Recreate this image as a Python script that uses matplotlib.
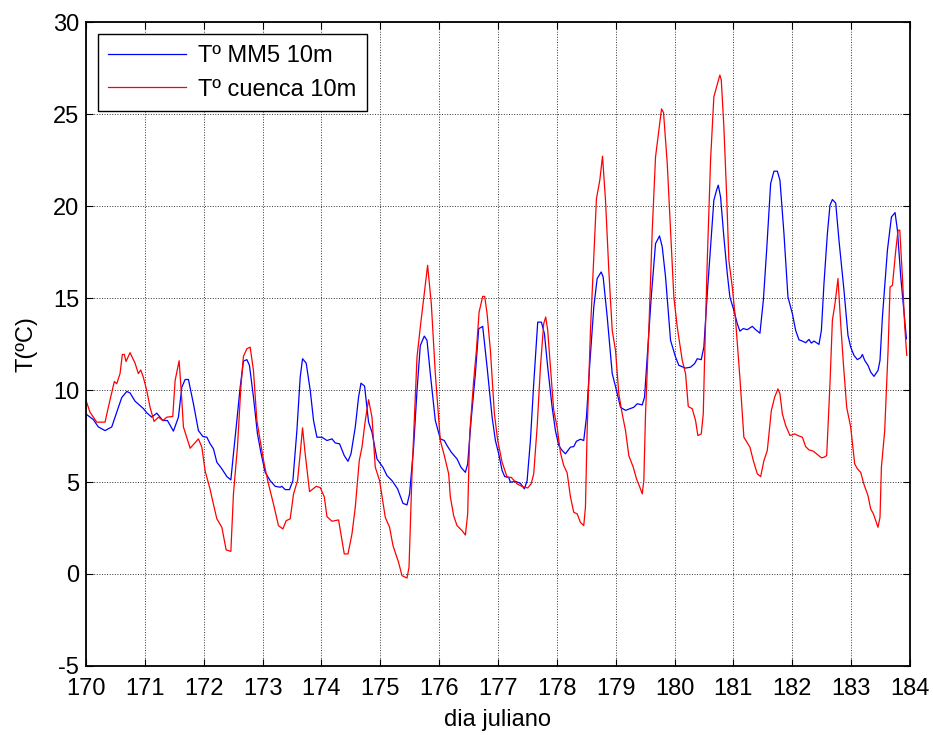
import matplotlib
matplotlib.use("Agg")
import matplotlib.pyplot as plt

# Julian day and temperature (ºC) of the MM5 model series (blue)
mm5_day = [170.000, 170.124, 170.209, 170.323, 170.437, 170.607, 170.692, 170.748, 170.833, 170.974,
           171.032, 171.117, 171.202, 171.304, 171.383, 171.485, 171.570, 171.628, 171.684, 171.740,
           171.825, 171.910, 171.985, 172.053, 172.109, 172.165, 172.223, 172.308, 172.393, 172.461,
           172.505, 172.563, 172.619, 172.675, 172.733, 172.777, 172.845, 172.913, 172.971, 173.044,
           173.129, 173.214, 173.299, 173.328, 173.384, 173.457, 173.515, 173.583, 173.639, 173.679,
           173.741, 173.810, 173.866, 173.923, 174.009, 174.094, 174.179, 174.235, 174.308, 174.388,
           174.451, 174.502, 174.575, 174.631, 174.672, 174.733, 174.801, 174.859, 174.944, 175.046,
           175.114, 175.199, 175.294, 175.386, 175.454, 175.498, 175.566, 175.624, 175.680, 175.748,
           175.794, 175.850, 175.935, 176.020, 176.088, 176.134, 176.207, 176.304, 176.372, 176.446,
           176.485, 176.543, 176.616, 176.672, 176.740, 176.815, 176.900, 176.956, 177.012, 177.070,
           177.114, 177.182, 177.211, 177.296, 177.381, 177.449, 177.495, 177.551, 177.607, 177.675,
           177.738, 177.789, 177.845, 177.920, 177.976, 178.032, 178.090, 178.146, 178.231, 178.287,
           178.333, 178.401, 178.457, 178.503, 178.560, 178.628, 178.685, 178.753, 178.787, 178.856,
           178.941, 179.014, 179.082, 179.167, 179.252, 179.308, 179.366, 179.451, 179.490, 179.536,
           179.604, 179.677, 179.745, 179.791, 179.847, 179.932, 180.017, 180.073, 180.187, 180.272,
           180.340, 180.386, 180.454, 180.498, 180.556, 180.612, 180.668, 180.714, 180.743, 180.782,
           180.838, 180.896, 180.940, 181.008, 181.066, 181.110, 181.168, 181.236, 181.321, 181.378,
           181.451, 181.509, 181.565, 181.633, 181.689, 181.747, 181.791, 181.859, 181.927, 182.002,
           182.058, 182.114, 182.172, 182.228, 182.284, 182.325, 182.369, 182.454, 182.495, 182.539,
           182.597, 182.641, 182.682, 182.738, 182.794, 182.879, 182.947, 182.993, 183.049, 183.107,
           183.163, 183.192, 183.231, 183.287, 183.333, 183.389, 183.457, 183.491, 183.532, 183.617,
           183.685, 183.747, 183.787, 183.844, 183.940]
mm5_temp = [8.7, 8.4, 8.0, 7.8, 8.0, 9.6, 9.93, 9.85, 9.4, 9.0,
            8.77, 8.53, 8.75, 8.35, 8.35, 7.77, 8.53, 10.16, 10.58, 10.58,
            9.26, 7.8, 7.48, 7.44, 7.08, 6.81, 6.08, 5.72, 5.3, 5.12,
            6.54, 8.35, 10.16, 11.58, 11.66, 11.35, 9.62, 7.62, 6.62, 5.53,
            5.08, 4.77, 4.72, 4.77, 4.59, 4.59, 5.08, 7.8, 10.7, 11.71,
            11.47, 9.98, 8.35, 7.44, 7.44, 7.26, 7.35, 7.13, 7.08, 6.44,
            6.13, 6.53, 7.99, 9.62, 10.38, 10.22, 8.26, 7.71, 6.26, 5.8,
            5.35, 5.08, 4.63, 3.84, 3.76, 4.36, 6.9, 9.98, 12.43, 12.94,
            12.71, 10.9, 8.35, 7.35, 7.26, 6.99, 6.62, 6.26, 5.8, 5.53,
            5.99, 8.35, 10.9, 13.34, 13.47, 11.25, 8.53, 7.26, 6.54, 5.63,
            5.3, 5.26, 4.99, 5.04, 4.93, 4.63, 5.08, 7.26, 10.35, 13.7,
            13.7, 13.07, 11.25, 9.07, 7.8, 6.99, 6.72, 6.54, 6.9, 6.93,
            7.22, 7.33, 7.26, 8.53, 11.44, 14.52, 16.07, 16.43, 16.16, 13.98,
            10.9, 9.98, 9.07, 8.9, 9.0, 9.07, 9.26, 9.2, 9.62, 11.8,
            15.07, 17.97, 18.39, 17.79, 16.16, 12.71, 11.8, 11.35, 11.2, 11.25,
            11.44, 11.71, 11.66, 12.34, 15.25, 17.79, 20.33, 20.88, 21.15, 20.51,
            18.33, 16.34, 15.07, 14.34, 13.62, 13.21, 13.35, 13.29, 13.47, 13.29,
            13.1, 14.89, 17.61, 21.24, 21.91, 21.91, 21.42, 18.52, 15.07, 14.16,
            13.25, 12.74, 12.67, 12.58, 12.76, 12.56, 12.67, 12.49, 13.25, 15.8,
            18.52, 20.06, 20.37, 20.18, 18.15, 15.43, 12.98, 12.34, 11.89, 11.66,
            11.77, 11.94, 11.62, 11.35, 10.98, 10.75, 11.07, 11.62, 13.98, 17.61,
            19.42, 19.66, 18.7, 16.16, 12.8]

# Julian day and temperature (ºC) measured at Cuenca (red)
cuenca_day = [170.000, 170.068, 170.182, 170.323, 170.379, 170.481, 170.522, 170.578, 170.617, 170.651,
              170.680, 170.748, 170.833, 170.889, 170.930, 170.974, 171.032, 171.088, 171.156, 171.230,
              171.304, 171.372, 171.474, 171.514, 171.582, 171.628, 171.655, 171.701, 171.769, 171.910,
              171.968, 172.024, 172.109, 172.138, 172.223, 172.308, 172.381, 172.461, 172.505, 172.573,
              172.631, 172.675, 172.733, 172.789, 172.845, 172.903, 172.959, 173.027, 173.100, 173.185,
              173.270, 173.345, 173.401, 173.469, 173.526, 173.594, 173.639, 173.679, 173.724, 173.798,
              173.912, 173.980, 174.048, 174.094, 174.179, 174.291, 174.388, 174.451, 174.519, 174.575,
              174.643, 174.689, 174.745, 174.801, 174.859, 174.915, 174.988, 175.085, 175.158, 175.216,
              175.311, 175.369, 175.454, 175.488, 175.539, 175.624, 175.680, 175.753, 175.804, 175.867,
              175.935, 176.020, 176.088, 176.162, 176.190, 176.247, 176.304, 176.389, 176.446, 176.485,
              176.519, 176.587, 176.633, 176.679, 176.740, 176.774, 176.815, 176.871, 176.939, 176.995,
              177.070, 177.155, 177.223, 177.325, 177.410, 177.505, 177.563, 177.607, 177.665, 177.721,
              177.777, 177.811, 177.845, 177.891, 177.947, 178.005, 178.061, 178.117, 178.175, 178.231,
              178.287, 178.345, 178.401, 178.457, 178.486, 178.515, 178.571, 178.628, 178.673, 178.730,
              178.776, 178.827, 178.883, 178.941, 178.997, 179.053, 179.111, 179.167, 179.223, 179.298,
              179.354, 179.410, 179.451, 179.478, 179.507, 179.563, 179.621, 179.677, 179.733, 179.779,
              179.813, 179.876, 179.932, 179.988, 180.046, 180.131, 180.187, 180.233, 180.301, 180.357,
              180.396, 180.454, 180.488, 180.510, 180.556, 180.612, 180.668, 180.714, 180.770, 180.794,
              180.838, 180.884, 180.923, 180.981, 181.037, 181.110, 181.178, 181.281, 181.338, 181.406,
              181.463, 181.519, 181.576, 181.645, 181.701, 181.757, 181.791, 181.832, 181.888, 181.961,
              182.041, 182.097, 182.172, 182.228, 182.284, 182.359, 182.427, 182.495, 182.539, 182.585,
              182.641, 182.682, 182.726, 182.777, 182.823, 182.869, 182.925, 182.993, 183.061, 183.107,
              183.163, 183.216, 183.287, 183.333, 183.379, 183.457, 183.491, 183.515, 183.571, 183.628,
              183.662, 183.702, 183.759, 183.798, 183.827, 183.872, 183.912, 183.946]
cuenca_temp = [9.44, 8.8, 8.26, 8.26, 9.07, 10.47, 10.35, 10.9, 11.94, 11.94,
               11.56, 12.04, 11.47, 10.9, 11.1, 10.7, 9.98, 9.07, 8.3, 8.53,
               8.35, 8.53, 8.57, 10.53, 11.6, 9.44, 8.0, 7.53, 6.84, 7.35,
               6.9, 5.6, 4.6, 4.17, 3.0, 2.54, 1.31, 1.23, 4.36, 6.9,
               10.16, 11.84, 12.25, 12.34, 11.07, 8.35, 7.26, 5.99, 4.9, 3.81,
               2.63, 2.45, 2.9, 3.0, 4.36, 5.08, 6.54, 7.95, 6.54, 4.48,
               4.77, 4.7, 4.2, 3.12, 2.87, 2.94, 1.09, 1.09, 2.18, 3.63,
               6.17, 6.9, 8.35, 9.48, 8.53, 5.81, 5.08, 3.08, 2.54, 1.54,
               0.63, -0.09, -0.22, 0.36, 5.45, 11.8, 13.43, 15.43, 16.79, 14.7,
               10.9, 7.26, 6.44, 5.45, 4.2, 3.17, 2.63, 2.36, 2.12, 3.27,
               7.62, 10.53, 12.16, 14.25, 15.1, 15.1, 14.16, 12.16, 8.71, 7.26,
               6.08, 5.26, 5.26, 4.9, 4.76, 4.68, 4.9, 5.45, 7.99, 11.25,
               13.62, 13.98, 13.25, 11.25, 8.9, 7.99, 6.6, 5.9, 5.5, 4.2,
               3.36, 3.27, 2.81, 2.63, 3.63, 7.8, 13.25, 17.24, 20.42, 21.42,
               22.73, 20.33, 16.52, 13.25, 12.16, 9.8, 8.71, 7.8, 6.44, 5.81,
               5.17, 4.72, 4.36, 5.08, 8.71, 13.25, 18.7, 22.69, 24.15, 25.3,
               25.1, 22.33, 18.7, 15.07, 13.43, 11.62, 10.9, 9.11, 8.99, 8.35,
               7.53, 7.62, 8.71, 11.62, 17.06, 22.51, 25.96, 26.5, 27.14, 26.87,
               24.33, 20.7, 17.06, 15.61, 13.8, 10.7, 7.44, 6.9, 6.17, 5.45,
               5.3, 6.17, 6.72, 8.9, 9.62, 10.07, 9.8, 8.71, 8.08, 7.53,
               7.62, 7.53, 7.44, 6.93, 6.75, 6.68, 6.5, 6.32, 6.35, 6.44,
               10.35, 13.8, 14.7, 16.07, 13.62, 11.44, 9.07, 7.99, 5.99, 5.72,
               5.53, 4.9, 4.26, 3.54, 3.27, 2.54, 3.08, 5.81, 7.8, 12.16,
               15.61, 15.7, 17.61, 18.7, 18.7, 16.16, 13.43, 11.89]

series_labels = ["Tº MM5 10m", "Tº cuenca 10m"]
x_ticks = list(range(170, 185))
y_ticks = list(range(-5, 31, 5))

plt.rcParams['font.family'] = ['Liberation Sans', 'DejaVu Sans']
plt.rcParams['axes.unicode_minus'] = False

FS = 17

fig = plt.figure(figsize=(9.33, 7.35), dpi=100)
ax = fig.add_axes([0.0922, 0.0940, 0.8831, 0.8754])

ax.plot(mm5_day, mm5_temp, color='#0000ff', linewidth=0.9, label=series_labels[0])
ax.plot(cuenca_day, cuenca_temp, color='#ff0000', linewidth=0.9, label=series_labels[1])

ax.set_xlim(170, 184)
ax.set_ylim(-5, 30)
ax.set_xticks(x_ticks)
ax.set_yticks(y_ticks)
ax.tick_params(direction='in', top=True, right=True, labelsize=FS, length=5, width=0.8)
ax.tick_params(axis='x', pad=9)
ax.tick_params(axis='y', pad=5)
ax.grid(True, linestyle=':', color='#333333', linewidth=0.7)
for s in ax.spines.values():
    s.set_linewidth(1.3)

ax.set_xlabel("dia juliano", fontsize=FS, labelpad=6)
ax.set_ylabel("T(ºC)", fontsize=FS, labelpad=11)

leg = ax.legend(loc='upper left', fontsize=FS, frameon=True, fancybox=False,
                edgecolor='black', framealpha=1, borderaxespad=0.5,
                handlelength=3.3, borderpad=0.45, labelspacing=0.5, handletextpad=0.5)
leg.get_frame().set_linewidth(1.0)

fig.savefig("out.png", dpi=100)
